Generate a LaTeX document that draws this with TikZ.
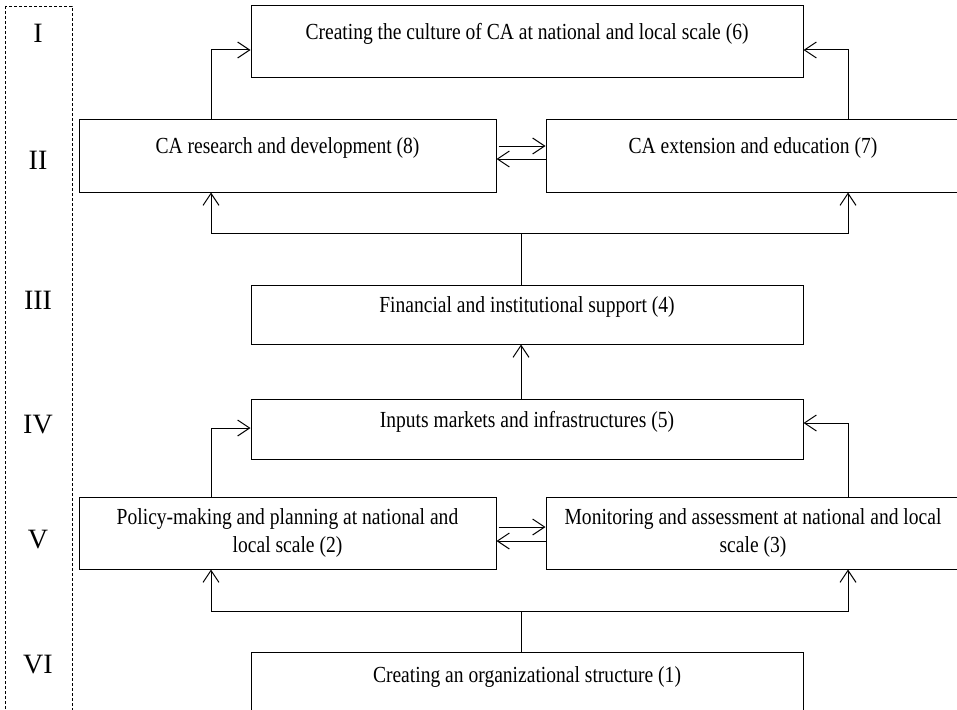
\documentclass[tikz,border=0pt]{standalone}
\usepackage{fontspec}
\setmainfont{Liberation Serif}[FakeStretch=0.85]
\newfontfamily\levelfont{Liberation Serif}
\usetikzlibrary{positioning,arrows.meta}

\begin{document}
\begin{tikzpicture}[x=1pt,y=-1pt,line width=1pt,font=\fontsize{23}{28}\selectfont]
  \tikzstyle{box}=[draw,line width=1pt,align=center,inner sep=0pt]
  \tikzstyle{lift}=[text height=16pt,text depth=20pt]
  \tikzstyle{arr}=[-{Straight Barb[length=12pt,width=16pt]}]
  \tikzstyle{level}=[font=\levelfont\fontsize{28}{30}\selectfont]
  \useasboundingbox (0,0) rectangle (957,709);
  % levels
  \draw[dash pattern=on 3pt off 2pt,line width=0.7pt] (5,6) rectangle (72,715);
  \foreach \r/\y [count=\i] in {I/33,II/160,III/300,IV/425,V/540,VI/665}
    \node[level] (l\i) at (38,\y) {\r};
  % boxes
  \node[box,lift,minimum width=552pt,minimum height=71pt] (b6) at (527,41.5) {Creating the culture of CA at national and local scale (6)};
  \node[box,lift,minimum width=417pt,minimum height=73pt] (b8) at (287.5,155.5) {CA research and development (8)};
  \node[box,lift,minimum width=414pt,minimum height=73pt,right=49pt of b8] (b7) {CA extension and education (7)};
  \node[box,lift,minimum width=552pt,minimum height=59pt] (b4) at (527,314.5) {Financial and institutional support (4)};
  \node[box,lift,minimum width=552pt,minimum height=60pt] (b5) at (527,429) {Inputs markets and infrastructures (5)};
  \node[box,minimum width=417pt,minimum height=72pt] (b2) at (287.5,533) {Policy-making and planning at national and\\local scale (2)};
  \node[box,minimum width=414pt,minimum height=72pt,right=49pt of b2] (b3) {Monitoring and assessment at national and local\\scale (3)};
  \node[box,lift,minimum width=552pt,minimum height=64pt] (b1) at (527,684) {Creating an organizational structure (1)};
  % upper part
  \draw[arr] ([xshift=-76.5pt]b8.north) |- ([yshift=-8.5pt]b6.west);
  \draw[arr] ([xshift=95pt]b7.north) |- ([yshift=-8.5pt]b6.east);
  \draw[arr] ([xshift=2pt,yshift=9.5pt]b8.east) -- ([yshift=9.5pt]b7.west);
  \draw[arr] ([yshift=-3.5pt]b7.west) -- ([yshift=-3.5pt]b8.east);
  \coordinate (j1) at (521,233);
  \draw (j1) -- (b4.north -| j1);
  \draw[arr] (j1) -| ([xshift=-76.5pt]b8.south);
  \draw[arr] (j1) -| ([xshift=95pt]b7.south);
  \draw[arr] (b5.north -| j1) -- (b4.south -| j1);
  % lower part
  \draw[arr] ([xshift=-76.5pt]b2.north) |- ([yshift=1pt]b5.west);
  \draw[arr] ([xshift=95pt]b3.north) |- ([yshift=6pt]b5.east);
  \draw[arr] ([xshift=2pt,yshift=6pt]b2.east) -- ([yshift=6pt]b3.west);
  \draw[arr] ([yshift=-8pt]b3.west) -- ([yshift=-8pt]b2.east);
  \coordinate (j2) at (521,611);
  \draw (j2) -- (b1.north -| j2);
  \draw[arr] (j2) -| ([xshift=-76.5pt]b2.south);
  \draw[arr] (j2) -| ([xshift=95pt]b3.south);
\end{tikzpicture}
\end{document}
